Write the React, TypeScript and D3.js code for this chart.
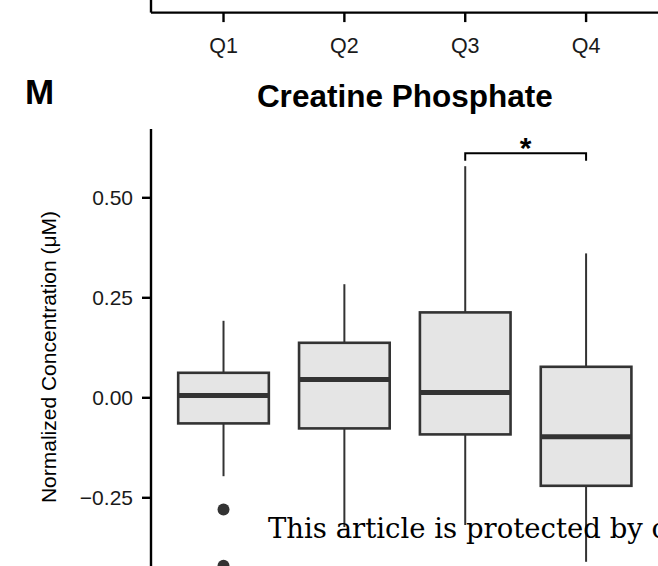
import React from "react";
import * as d3 from "d3";

const categories = ["Q1", "Q2", "Q3", "Q4"];
const whiskerLow = [-0.196, -0.323, -0.318, -0.41];
const q1Values = [-0.064, -0.0765, -0.0915, -0.22];
const medians = [0.006, 0.046, 0.0135, -0.0975];
const q3Values = [0.0625, 0.1375, 0.2135, 0.0775];
const whiskerHigh = [0.1925, 0.284, 0.579, 0.361];
const outlierCats = ["Q1", "Q1"];
const outlierValues = [-0.279, -0.42];
const yTicks = [-0.25, 0, 0.25, 0.5];
const sigPair = ["Q3", "Q4"];
const sigLabel = "*";
const title = "Creatine Phosphate";
const panelLetter = "M";
const yLabel = "Normalized Concentration (\u03bcM)";
const watermark = "This article is protected by copyright. All rights reserved.";

const W = 658;
const H = 566;
const panelLeft = 151;
const panelRight = 658.6;
const panelTop = 129;
const yMax = 0.672;
const yMin = -0.5;
const pxPerUnit = 400;
const panelBottom = panelTop + (yMax - yMin) * pxPerUnit;
const topAxisY = 12.6;

const dark = "#333333";
const fill = "#e5e5e5";
const sans = "Liberation Sans, Arial, Helvetica, sans-serif";

export default function App() {
  const x = d3.scalePoint<string>().domain(categories).range([panelLeft, panelRight]).padding(0.6);
  const step = x.step();
  const bw = step * 0.75;
  const y = d3.scaleLinear().domain([yMin, yMax]).range([panelBottom, panelTop]);
  const fmt = d3.format(".2f");
  const fmtTick = (v: number) => fmt(v).replace("-", "\u2212");

  const sx1 = x(sigPair[0])!;
  const sx2 = x(sigPair[1])!;
  const brY = 153.3;
  const brDrop = 7.4;

  return (
    <svg width={W} height={H} style={{ position: "absolute", left: 0, top: 0, background: "#fff" }}>
      <rect x={0} y={0} width={W} height={H} fill="#fff" />
      {/* fragment of previous panel's x axis */}
      <line x1={panelLeft} x2={W + 2} y1={topAxisY} y2={topAxisY} stroke="#000" strokeWidth={2.4} />
      <line x1={panelLeft} x2={panelLeft} y1={-2} y2={topAxisY} stroke="#000" strokeWidth={2.4} />
      {categories.map((c) => (
        <g key={"tt" + c}>
          <line x1={x(c)} x2={x(c)} y1={topAxisY} y2={topAxisY + 9.5} stroke="#000" strokeWidth={2.4} />
          <text x={x(c)} y={53} textAnchor="middle" fontFamily={sans} fontSize={21.5} fill="#1a1a1a">
            {c}
          </text>
        </g>
      ))}

      {/* panel letter & title */}
      <text x={25} y={104} fontFamily={sans} fontWeight="bold" fontSize={35} fill="#000">
        {panelLetter}
      </text>
      <text x={(panelLeft + panelRight) / 2} y={107.3} textAnchor="middle" fontFamily={sans} fontWeight="bold" fontSize={31.5} fill="#000">
        {title}
      </text>

      {/* y axis */}
      <line x1={panelLeft} x2={panelLeft} y1={panelTop} y2={panelBottom} stroke="#000" strokeWidth={2.4} />
      {yTicks.map((t) => (
        <g key={"yt" + t}>
          <line x1={panelLeft - 9} x2={panelLeft} y1={y(t)} y2={y(t)} stroke="#000" strokeWidth={2.4} />
          <text x={133} y={y(t)} dy="0.36em" textAnchor="end" fontFamily={sans} fontSize={21} fill="#1a1a1a">
            {fmtTick(t)}
          </text>
        </g>
      ))}
      <text
        transform={`translate(56,357) rotate(-90)`}
        textAnchor="middle"
        fontFamily={sans}
        fontSize={21}
        fill="#000"
      >
        {yLabel}
      </text>

      {/* boxes */}
      {categories.map((c, i) => {
        const cx = x(c)!;
        return (
          <g key={"box" + c}>
            <line x1={cx} x2={cx} y1={y(q3Values[i])} y2={y(whiskerHigh[i])} stroke={dark} strokeWidth={2} />
            <line x1={cx} x2={cx} y1={y(q1Values[i])} y2={y(whiskerLow[i])} stroke={dark} strokeWidth={2} />
            <rect
              x={cx - bw / 2}
              y={y(q3Values[i])}
              width={bw}
              height={y(q1Values[i]) - y(q3Values[i])}
              fill={fill}
              stroke={dark}
              strokeWidth={2.6}
            />
            <line x1={cx - bw / 2} x2={cx + bw / 2} y1={y(medians[i])} y2={y(medians[i])} stroke={dark} strokeWidth={5} />
          </g>
        );
      })}
      {outlierValues.map((v, i) => (
        <circle key={"o" + i} cx={x(outlierCats[i])} cy={y(v)} r={6} fill={dark} />
      ))}

      {/* significance bracket */}
      <path
        d={`M${sx1},${brY + brDrop} L${sx1},${brY} L${sx2},${brY} L${sx2},${brY + brDrop}`}
        fill="none"
        stroke="#000"
        strokeWidth={2}
      />
      <text x={(sx1 + sx2) / 2} y={158} textAnchor="middle" fontFamily={sans} fontWeight="bold" fontSize={30} fill="#000">
        {sigLabel}
      </text>

      {/* watermark */}
      <text x={268} y={538.3} fontFamily="DejaVu Serif, serif" fontSize={27.5} fill="#000">
        {watermark}
      </text>
    </svg>
  );
}
